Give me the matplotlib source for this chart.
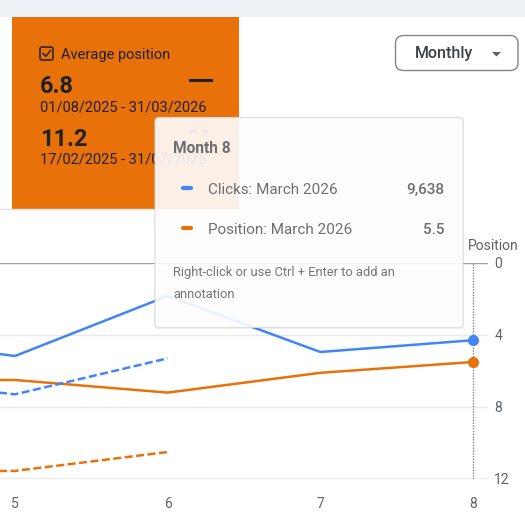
import matplotlib.pyplot as plt
from matplotlib.patches import FancyBboxPatch, Rectangle, Polygon

# waarden
months = [4, 5, 6, 7, 8]
clicks = [9900, 8540, 12710, 8820, 9638]
position = [6.5, 6.5, 7.2, 6.1, 5.5]
prev_months = [4, 5, 6]
prev_clicks = [7000, 5880, 8380]
prev_position = [11.6, 11.55, 10.5]
x_ticks = [5, 6, 7, 8]
pos_ticks = [0, 4, 8, 12]
clicks_max = 15000

BLUE = '#4285f4'
ORANGE = '#e8710a'
GRAY = '#5f6368'
DARK = '#202124'

plt.rcParams['font.family'] = ['Roboto', 'DejaVu Sans']

W, H = 525, 521
fig = plt.figure(figsize=(W / 100, H / 100), dpi=100)


def px_box(l, t, r, b):
    """ pixelcoordinaten naar figuurfracties"""
    return [l / W, 1 - b / H, (r - l) / W, (b - t) / H]


# grafiek met positie-as rechts, clicks op eigen (verborgen) as
ax = fig.add_axes(px_box(0, 263, 488, 479))
ax2 = ax.twinx()
step = 3 / 458
ax.set_xlim(5 - 15 * step, 5 + 473 * step)
ax.set_ylim(12, 0)
for s in ax.spines.values():
    s.set_visible(False)
ax.set_xticks(x_ticks)
ax.set_yticks(pos_ticks)
ax.yaxis.tick_right()
ax.tick_params(length=0, colors=GRAY, labelsize=10)
ax.tick_params(axis='x', pad=13)
ax.tick_params(axis='y', pad=4.5, labelleft=False, labelright=True)
for v in pos_ticks:
    edge = v in (pos_ticks[0], pos_ticks[-1])
    ax.axhline(v, color='#9aa0a6' if edge else '#e8eaed', lw=1, zorder=1)
ax.axvline(x_ticks[-1], color='#80868b', lw=1, ls=(0, (1, 1)), zorder=2)

ax.plot(prev_months, prev_position, color=ORANGE, lw=1.8, ls=(0, (3.2, 1.4)), zorder=3)
ax.plot(months, position, color=ORANGE, lw=1.8, zorder=3)
ax.plot(months[-1], position[-1], 'o', color=ORANGE, ms=7, zorder=4)

ax2.set_ylim(0, clicks_max)
ax2.axis('off')
ax2.plot(prev_months, prev_clicks, color=BLUE, lw=1.8, ls=(0, (3.2, 1.4)))
ax2.plot(months, clicks, color=BLUE, lw=1.8)
ax2.plot(months[-1], clicks[-1], 'o', color=BLUE, ms=7)

# bovenlaag voor kaart, knop en tooltip
ui = fig.add_axes([0, 0, 1, 1], zorder=10)
ui.set_xlim(0, W)
ui.set_ylim(H, 0)
ui.axis('off')

ui.add_patch(Rectangle((0, 0), W, 17, color='#eef1f6', lw=0))
ui.plot([0, 239], [208.5, 208.5], color='#e3e3e3', lw=1)
ui.add_patch(Rectangle((12, 17), 227, 192, color=ORANGE, lw=0))

# kaart met gemiddelde positie
ui.add_patch(FancyBboxPatch((40, 47), 13, 13, boxstyle='round,pad=0,rounding_size=2',
                            fc='none', ec=DARK, lw=1.1))
ui.plot([43, 45.8, 50.5], [53.5, 56.3, 50.5], color=DARK, lw=1.1)
ui.text(61, 58.5, 'Average position', color=DARK, fontsize=10.5)
ui.text(40, 93, '6.8', color=DARK, fontsize=17, fontweight='bold')
ui.plot([190, 211], [80, 80], color=DARK, lw=2.2)
ui.text(40, 112, '01/08/2025 - 31/03/2026', color=DARK, fontsize=10.5)
ui.text(40, 145.5, '11.2', color=DARK, fontsize=17, fontweight='bold')
ui.plot([190, 211], [131, 131], color=DARK, lw=2.2, ls=(0, (2, 1.5)))
ui.text(40, 163.5, '17/02/2025 - 31/07/2025', color=DARK, fontsize=10.5)

# knop Monthly
ui.add_patch(FancyBboxPatch((395.5, 35.5), 122.5, 35, boxstyle='round,pad=0,rounding_size=8',
                            fc='white', ec='#80868b', lw=1))
ui.text(415, 58, 'Monthly', color='#3c4043', fontsize=11.5, fontweight='medium')
ui.add_patch(Polygon([[492, 52], [501, 52], [496.5, 56.5]], color=GRAY, lw=0))

ui.text(519, 250, 'Position', color=GRAY, fontsize=10, ha='right')

# tooltip
ui.add_patch(FancyBboxPatch((154, 117), 310, 212, boxstyle='round,pad=0,rounding_size=4',
                            fc='black', alpha=0.06, lw=0, zorder=5))
ui.add_patch(FancyBboxPatch((155, 117.5), 308, 210, boxstyle='round,pad=0,rounding_size=4',
                            fc='white', alpha=0.9, ec='#dadce0', lw=0.8, zorder=6))
ui.text(173, 153, 'Month 8', color='#6f6f6f', fontsize=11.2, fontweight='bold', zorder=7)
ui.plot([183, 191], [187.5, 187.5], color=BLUE, lw=3, solid_capstyle='round', zorder=7)
ui.text(208, 194, 'Clicks: March 2026', color='#6f6f6f', fontsize=11, zorder=7)
ui.text(444, 194, f'{clicks[-1]:,}', color='#6f6f6f', fontsize=11, fontweight='medium',
        ha='right', zorder=7)
ui.plot([183, 191], [227.5, 227.5], color=ORANGE, lw=3, solid_capstyle='round', zorder=7)
ui.text(208, 234, 'Position: March 2026', color='#6f6f6f', fontsize=11, zorder=7)
ui.text(444, 234, f'{position[-1]}', color='#6f6f6f', fontsize=11, fontweight='medium',
        ha='right', zorder=7)
ui.text(173, 276, 'Right-click or use Ctrl + Enter to add an', color='#757575',
        fontsize=9.3, zorder=7)
ui.text(173, 297.5, 'annotation', color='#757575', fontsize=9.3, zorder=7)

plt.savefig('out.png', dpi=100)
